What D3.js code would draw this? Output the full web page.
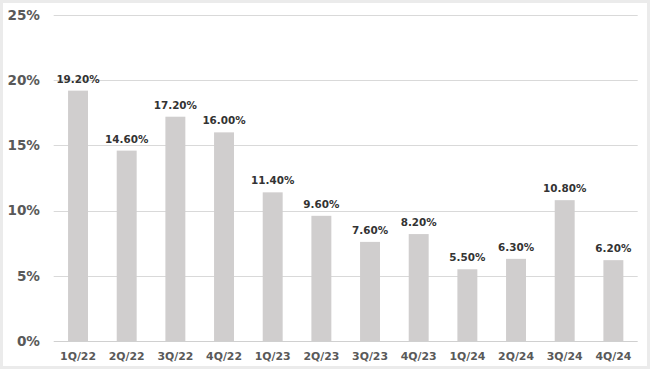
<!DOCTYPE html>
<html><head><meta charset="utf-8">
<script src="https://cdn.jsdelivr.net/npm/d3@7"></script>
<style>html,body{margin:0;padding:0;background:#fff;}svg{display:block;}</style>
</head><body>
<script>
const categories = ["1Q/22","2Q/22","3Q/22","4Q/22","1Q/23","2Q/23","3Q/23","4Q/23","1Q/24","2Q/24","3Q/24","4Q/24"];
const values = [19.2,14.6,17.2,16.0,11.4,9.6,7.6,8.2,5.5,6.3,10.8,6.2];
const yTicks = [0,5,10,15,20,25];

(function(){
const W=650,H=369;
const svg=d3.select("body").append("svg").attr("width",W).attr("height",H);
svg.append("rect").attr("x",1.5).attr("y",1.5).attr("width",W-3).attr("height",H-3)
  .attr("fill","#fff").attr("stroke","#ebebeb").attr("stroke-width",3);

const pLeft=53.7,pRight=637.7,pTop=15,pBottom=341;
const x=d3.scaleBand().domain(categories).range([pLeft,pRight]).paddingInner(0.59).paddingOuter(0.295);
const y=d3.scaleLinear().domain([0,25]).range([pBottom,pTop]);

const font="DejaVu Sans, Verdana, sans-serif";
const grid=svg.append("g");
grid.selectAll("line").data(yTicks).join("line")
  .attr("x1",pLeft).attr("x2",pRight)
  .attr("y1",d=>Math.round(y(d))+0.5).attr("y2",d=>Math.round(y(d))+0.5)
  .attr("stroke",d=>d===0?"#d0d0d0":"#d9d9d9").attr("stroke-width",1);

const yAxis=d3.axisLeft(y).tickValues(yTicks).tickFormat(d=>d+"%").tickSize(0).tickPadding(0);
const ya=svg.append("g").attr("transform","translate(40,0)").call(yAxis);
ya.select(".domain").remove();
ya.selectAll("text").attr("font-family",font).attr("font-weight","bold").attr("font-size","13.6px").attr("fill","#595959");

svg.append("g").selectAll("rect").data(values).join("rect")
  .attr("x",(d,i)=>x(categories[i])).attr("width",x.bandwidth())
  .attr("y",d=>y(d)).attr("height",d=>pBottom-y(d)).attr("fill","#d0cece");

svg.append("g").selectAll("text").data(values).join("text")
  .attr("x",(d,i)=>x(categories[i])+x.bandwidth()/2).attr("y",d=>y(d)-8)
  .attr("text-anchor","middle").attr("font-family",font).attr("font-weight","bold")
  .attr("font-size","10.4px").attr("fill","#333333").text(d=>d.toFixed(2)+"%");

const xAxis=d3.axisBottom(x).tickSize(0).tickPadding(0);
const xa=svg.append("g").attr("transform",`translate(0,${pBottom+15})`).call(xAxis);
xa.select(".domain").remove();
xa.selectAll("text").attr("font-family",font).attr("font-weight","bold").attr("font-size","10.9px").attr("fill","#595959").attr("dy","0.35em");
})();
</script>
</body></html>
